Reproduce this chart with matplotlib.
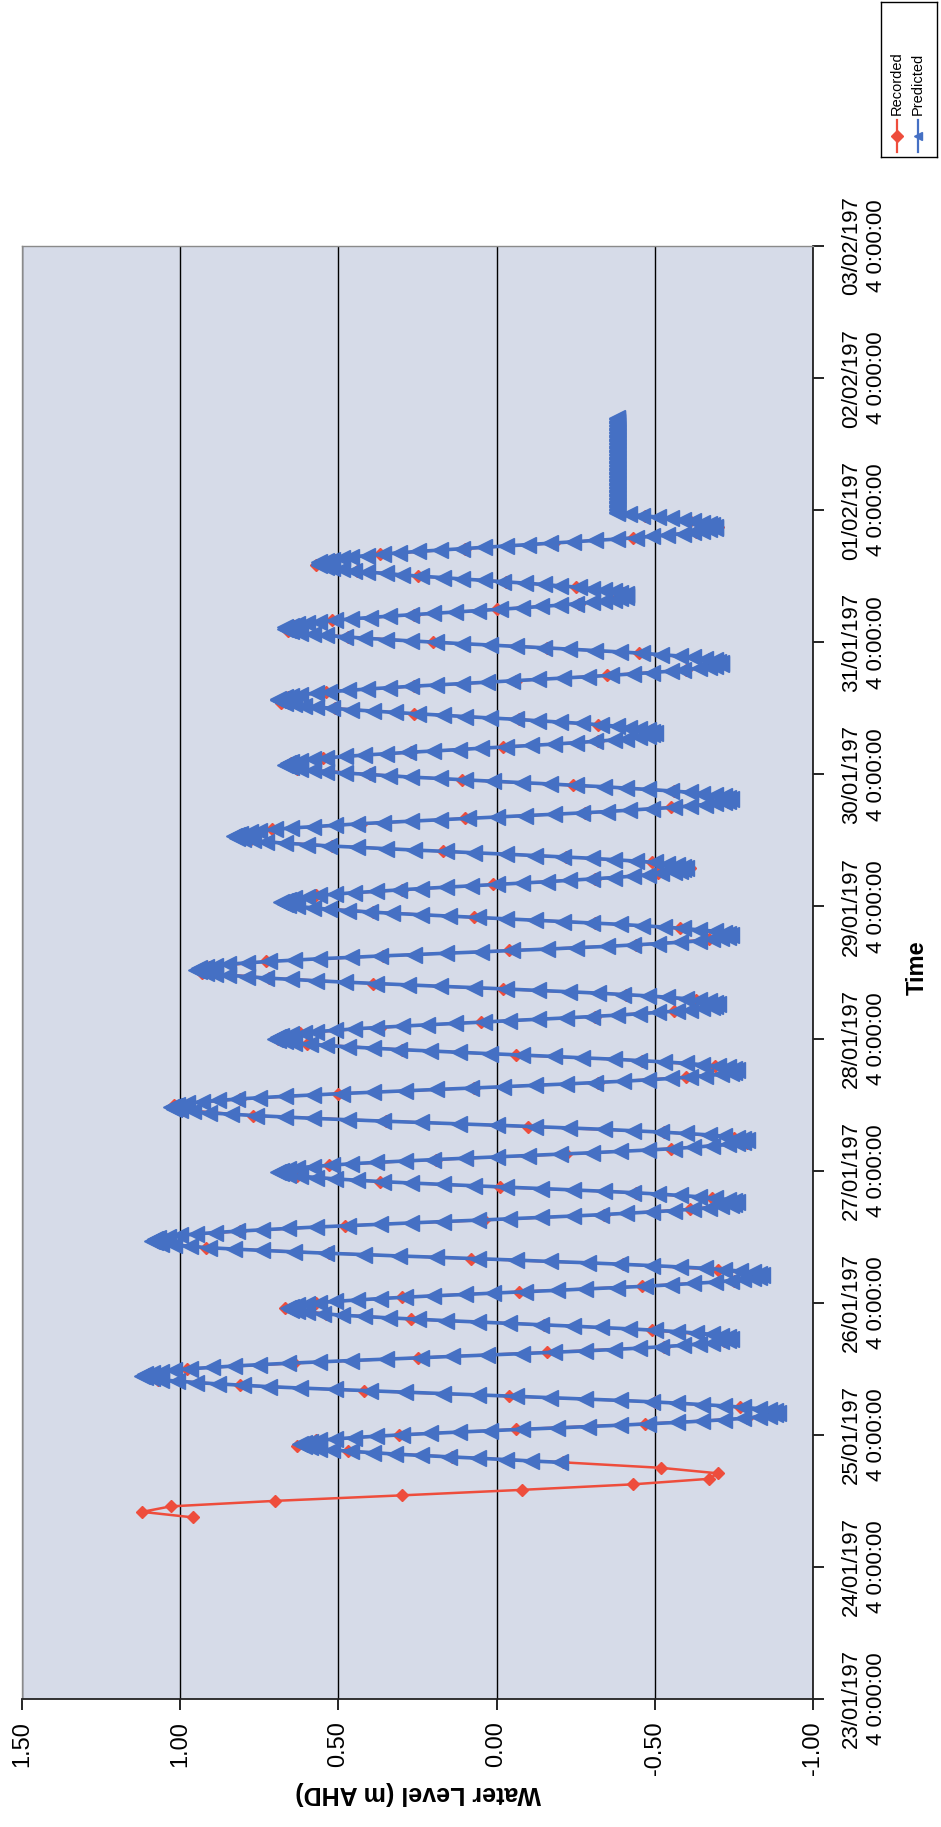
import pandas as pd
import matplotlib
matplotlib.use("Agg")
import matplotlib.pyplot as plt

plt.rcParams["font.family"] = ["Liberation Sans", "DejaVu Sans"]

level_ticks = [1.5, 1.0, 0.5, 0.0, -0.5, -1.0]
level_labels = ["1.50", "1.00", "0.50", "0.00", "-0.50", "-1.00"]

date_ticks = pd.date_range("1974-01-23", "1974-02-03", freq="D")
date_labels = [
    "23/01/197\n4 0:00:00", "24/01/197\n4 0:00:00", "25/01/197\n4 0:00:00",
    "26/01/197\n4 0:00:00", "27/01/197\n4 0:00:00", "28/01/197\n4 0:00:00",
    "29/01/197\n4 0:00:00", "30/01/197\n4 0:00:00", "31/01/197\n4 0:00:00",
    "01/02/197\n4 0:00:00", "02/02/197\n4 0:00:00", "03/02/197\n4 0:00:00",
]

# recorded levels, hourly from 24/01/1974 09:00
recorded_start = "1974-01-24 09:00"
recorded_level = [
    0.96, 1.12, 1.03, 0.70, 0.30, -0.08, -0.43, -0.67, -0.70, -0.52,
    -0.21, 0.14, 0.47, 0.63, 0.57, 0.31, -0.06, -0.47, -0.79, -0.88,
    -0.77, -0.50, -0.04, 0.42, 0.81, 1.07, 1.10, 0.98, 0.64, 0.25,
    -0.16, -0.53, -0.72, -0.70, -0.49, -0.15, 0.27, 0.54, 0.67, 0.57,
    0.30, -0.07, -0.46, -0.75, -0.83, -0.70, -0.40, 0.08, 0.53, 0.92,
    1.07, 1.05, 0.81, 0.48, 0.04, -0.34, -0.61, -0.76, -0.68, -0.44,
    -0.01, 0.37, 0.63, 0.67, 0.53, 0.19, -0.22, -0.55, -0.79, -0.75,
    -0.53, -0.10, 0.35, 0.77, 0.99, 1.02, 0.81, 0.50, 0.07, -0.32,
    -0.60, -0.76, -0.69, -0.46, -0.06, 0.30, 0.60, 0.69, 0.62, 0.37,
    0.05, -0.31, -0.56, -0.70, -0.63, -0.41, -0.02, 0.39, 0.72, 0.93,
    0.91, 0.73, 0.36, -0.04, -0.44, -0.67, -0.74, -0.58, -0.31, 0.07,
    0.39, 0.64, 0.66, 0.57, 0.30, 0.01, -0.31, -0.51, -0.61, -0.49,
    -0.22, 0.17, 0.52, 0.78, 0.81, 0.71, 0.43, 0.10, -0.28, -0.55,
    -0.73, -0.71, -0.56, -0.24, 0.11, 0.40, 0.63, 0.65, 0.55, 0.27,
    -0.02, -0.32, -0.47, -0.49, -0.32, -0.07, 0.26, 0.51, 0.68, 0.66,
    0.54, 0.26, -0.06, -0.35, -0.60, -0.70, -0.67, -0.45, -0.16, 0.20,
    0.47, 0.66, 0.64, 0.52, 0.26, 0.00, -0.26, -0.38, -0.40, -0.25,
    -0.03, 0.25, 0.44, 0.57, 0.51, 0.37, 0.10, -0.18, -0.43, -0.63,
    -0.70, -0.61, -0.47,
]

# predicted levels, every 15 minutes from 24/01/1974 19:00
predicted_start = "1974-01-24 19:00"
predicted_level = [
    -0.20, -0.11, -0.03, 0.06, 0.15, 0.24, 0.32, 0.39, 0.46, 0.52, 0.56, 0.59, 0.61, 0.62,
    0.61, 0.59, 0.56, 0.51, 0.45, 0.38, 0.30, 0.21, 0.12, 0.02, -0.08, -0.19,
    -0.29, -0.39, -0.48, -0.57, -0.65, -0.72, -0.78, -0.83, -0.86, -0.88, -0.89,
    -0.88, -0.86, -0.83, -0.78, -0.72, -0.65, -0.57, -0.49, -0.39, -0.28, -0.17, -0.06,
    0.06, 0.17, 0.29, 0.40, 0.51, 0.62, 0.72, 0.80, 0.88, 0.95, 1.01, 1.06, 1.09, 1.11, 1.12,
    1.11, 1.09, 1.06, 1.02, 0.97, 0.90, 0.83, 0.75, 0.66, 0.56, 0.46, 0.35, 0.24, 0.14,
    0.03, -0.08, -0.18, -0.28, -0.37, -0.45, -0.52, -0.59, -0.64, -0.68, -0.71, -0.73, -0.74,
    -0.73, -0.71, -0.68, -0.63, -0.57, -0.50, -0.42, -0.33, -0.24, -0.14, -0.04,
    0.06, 0.16, 0.25, 0.34, 0.42, 0.49, 0.55, 0.60, 0.63, 0.65, 0.66,
    0.65, 0.63, 0.60, 0.56, 0.51, 0.44, 0.37, 0.29, 0.20, 0.10, 0.01, -0.09,
    -0.19, -0.28, -0.38, -0.47, -0.55, -0.62, -0.69, -0.74, -0.78, -0.81, -0.83, -0.84,
    -0.83, -0.81, -0.77, -0.72, -0.66, -0.58, -0.49, -0.39, -0.29, -0.17, -0.06, 0.06,
    0.19, 0.31, 0.42, 0.54, 0.64, 0.74, 0.83, 0.91, 0.97, 1.02, 1.06, 1.08, 1.09,
    1.08, 1.07, 1.04, 1.00, 0.95, 0.89, 0.82, 0.74, 0.66, 0.57, 0.47, 0.37, 0.27, 0.17,
    0.06, -0.04, -0.14, -0.24, -0.33, -0.41, -0.49, -0.56, -0.62, -0.67, -0.71, -0.74, -0.75, -0.76,
    -0.75, -0.73, -0.69, -0.64, -0.58, -0.51, -0.43, -0.34, -0.24, -0.14, -0.03,
    0.07, 0.17, 0.27, 0.36, 0.44, 0.51, 0.57, 0.62, 0.66, 0.68, 0.69,
    0.68, 0.66, 0.63, 0.58, 0.52, 0.46, 0.38, 0.29, 0.20, 0.10, 0.00, -0.10,
    -0.20, -0.30, -0.39, -0.48, -0.56, -0.62, -0.68, -0.73, -0.76, -0.78, -0.79,
    -0.78, -0.76, -0.72, -0.67, -0.60, -0.52, -0.43, -0.34, -0.23, -0.12, 0.00, 0.12,
    0.24, 0.36, 0.47, 0.58, 0.67, 0.76, 0.84, 0.91, 0.96, 1.00, 1.02, 1.03,
    1.02, 1.01, 0.98, 0.93, 0.88, 0.82, 0.75, 0.67, 0.58, 0.49, 0.39, 0.29, 0.19, 0.08,
    -0.02, -0.12, -0.22, -0.31, -0.40, -0.48, -0.55, -0.61, -0.66, -0.71, -0.74, -0.75, -0.76,
    -0.75, -0.73, -0.70, -0.65, -0.60, -0.53, -0.45, -0.37, -0.27, -0.18, -0.08, 0.02,
    0.12, 0.21, 0.31, 0.39, 0.47, 0.54, 0.59, 0.64, 0.67, 0.69, 0.70,
    0.69, 0.68, 0.65, 0.61, 0.57, 0.51, 0.45, 0.38, 0.30, 0.22, 0.13, 0.04, -0.04,
    -0.13, -0.22, -0.30, -0.38, -0.45, -0.51, -0.57, -0.61, -0.65, -0.68, -0.69, -0.70,
    -0.69, -0.67, -0.64, -0.60, -0.54, -0.48, -0.40, -0.32, -0.23, -0.13, -0.03, 0.07,
    0.18, 0.28, 0.38, 0.48, 0.57, 0.65, 0.73, 0.79, 0.85, 0.89, 0.92, 0.94, 0.95,
    0.94, 0.92, 0.89, 0.85, 0.79, 0.72, 0.64, 0.56, 0.46, 0.37, 0.26, 0.16, 0.05,
    -0.05, -0.16, -0.25, -0.35, -0.43, -0.51, -0.58, -0.64, -0.68, -0.71, -0.73, -0.74,
    -0.73, -0.72, -0.69, -0.64, -0.59, -0.53, -0.46, -0.39, -0.30, -0.21, -0.12, -0.03,
    0.06, 0.15, 0.24, 0.33, 0.40, 0.47, 0.53, 0.58, 0.63, 0.66, 0.67, 0.68,
    0.67, 0.66, 0.64, 0.60, 0.56, 0.51, 0.45, 0.38, 0.31, 0.24, 0.16, 0.08, 0.00,
    -0.08, -0.16, -0.23, -0.30, -0.37, -0.43, -0.48, -0.52, -0.56, -0.58, -0.59, -0.60,
    -0.59, -0.57, -0.54, -0.50, -0.44, -0.37, -0.30, -0.21, -0.12, -0.03, 0.07,
    0.16, 0.26, 0.35, 0.44, 0.53, 0.60, 0.67, 0.73, 0.77, 0.80, 0.82, 0.83,
    0.82, 0.81, 0.78, 0.75, 0.70, 0.65, 0.58, 0.51, 0.44, 0.36, 0.27, 0.18, 0.09, 0.00,
    -0.09, -0.18, -0.27, -0.35, -0.42, -0.49, -0.56, -0.61, -0.66, -0.69, -0.72, -0.73, -0.74,
    -0.73, -0.72, -0.69, -0.65, -0.61, -0.55, -0.48, -0.41, -0.34, -0.25, -0.17, -0.08,
    0.01, 0.10, 0.18, 0.27, 0.34, 0.41, 0.48, 0.54, 0.58, 0.62, 0.65, 0.66, 0.67,
    0.66, 0.65, 0.62, 0.58, 0.54, 0.48, 0.42, 0.35, 0.28, 0.20, 0.12, 0.05,
    -0.03, -0.11, -0.18, -0.25, -0.31, -0.37, -0.41, -0.45, -0.48, -0.49, -0.50,
    -0.49, -0.48, -0.45, -0.42, -0.38, -0.33, -0.27, -0.20, -0.13, -0.06, 0.02, 0.10,
    0.17, 0.25, 0.32, 0.39, 0.46, 0.52, 0.57, 0.61, 0.64, 0.67, 0.68, 0.69,
    0.69, 0.67, 0.65, 0.62, 0.57, 0.53, 0.47, 0.41, 0.34, 0.27, 0.19, 0.11, 0.03,
    -0.05, -0.13, -0.21, -0.29, -0.36, -0.43, -0.49, -0.55, -0.59, -0.64, -0.67, -0.69, -0.71, -0.71,
    -0.70, -0.69, -0.66, -0.62, -0.58, -0.52, -0.46, -0.39, -0.31, -0.23, -0.15, -0.06,
    0.02, 0.11, 0.19, 0.27, 0.35, 0.42, 0.48, 0.54, 0.58, 0.62, 0.65, 0.66, 0.67,
    0.67, 0.65, 0.63, 0.60, 0.56, 0.51, 0.46, 0.40, 0.34, 0.27, 0.20, 0.13,
    0.06, -0.01, -0.08, -0.14, -0.20, -0.25, -0.30, -0.34, -0.37, -0.39, -0.41, -0.41,
    -0.41, -0.39, -0.37, -0.34, -0.30, -0.26, -0.20, -0.15, -0.09, -0.02, 0.04, 0.11,
    0.17, 0.24, 0.30, 0.35, 0.41, 0.45, 0.49, 0.52, 0.54, 0.56, 0.56,
    0.56, 0.54, 0.52, 0.49, 0.46, 0.41, 0.36, 0.31, 0.25, 0.18, 0.11, 0.04, -0.03,
    -0.10, -0.17, -0.24, -0.31, -0.38, -0.44, -0.49, -0.54, -0.59, -0.62, -0.65, -0.67, -0.69, -0.69,
    -0.68, -0.67, -0.65, -0.62, -0.59, -0.55, -0.51, -0.46, -0.42, -0.38,
    # flat stretch at the end of the prediction run
    -0.38, -0.38, -0.38, -0.38, -0.38, -0.38, -0.38, -0.38, -0.38, -0.38,
    -0.38, -0.38, -0.38, -0.38, -0.38, -0.38, -0.38, -0.38, -0.38, -0.38,
    -0.38, -0.38, -0.38, -0.38, -0.38, -0.38, -0.38, -0.38, -0.38, -0.38,
    -0.38, -0.38, -0.38, -0.38, -0.38, -0.38, -0.38, -0.38, -0.38, -0.38,
    -0.38, -0.38, -0.38, -0.38, -0.38, -0.38, -0.38, -0.38, -0.38, -0.38,
    -0.38, -0.38, -0.38, -0.38, -0.38, -0.38, -0.38, -0.38, -0.38, -0.38,
    -0.38, -0.38, -0.38, -0.38, -0.38, -0.38, -0.38, -0.38, -0.38,
]

RED = "#ee4d3c"
BLUE = "#4570c4"
PLOT_BG = "#d6dbe8"

rec_times = pd.date_range(recorded_start, periods=len(recorded_level), freq="h")
pred_times = pd.date_range(predicted_start, periods=len(predicted_level), freq="15min")

W, H = 941, 1827
fig = plt.figure(figsize=(W / 100, H / 100), dpi=100)

# the chart was scanned sideways: water level runs right-to-left, time bottom-to-top
left, right, top, bottom = 22, 813, 246, 1699
ax = fig.add_axes([left / W, (H - bottom) / H, (right - left) / W, (bottom - top) / H])
ax.set_facecolor(PLOT_BG)

ax.plot(recorded_level, rec_times, color=RED, lw=1.8, marker="D", ms=6.5,
        mec=RED, mfc=RED, zorder=3)
ax.plot(predicted_level, pred_times, color=BLUE, lw=2.6, marker="<", ms=11.5,
        mec=BLUE, mfc=BLUE, zorder=4)

ax.set_xlim(1.5, -1.0)
ax.set_ylim(date_ticks[0], date_ticks[-1])

ax.set_xticks(level_ticks)
ax.set_xticklabels(level_labels)
ax.set_yticks(date_ticks)
ax.set_yticklabels(date_labels)

ax.grid(axis="x", color="black", lw=1.0, zorder=1)
ax.grid(axis="y", visible=False)
ax.set_axisbelow(True)

for side in ["bottom", "right"]:
    ax.spines[side].set_color("#222222")
    ax.spines[side].set_linewidth(1.3)
for side in ["top", "left"]:
    ax.spines[side].set_color("#8a8a8a")
    ax.spines[side].set_linewidth(1.0)

ax.tick_params(axis="x", direction="out", length=8, width=1.2, pad=8,
               labelsize=17, labelrotation=90)
ax.yaxis.tick_right()
ax.tick_params(axis="y", direction="out", length=8, width=1.2, pad=12,
               labelsize=16, labelrotation=90)
for lab in ax.get_yticklabels():
    lab.set_va("center")
    lab.set_ha("left")
    lab.set_multialignment("center")
    lab.set_linespacing(1.25)

fig.text(418 / W, 1 - 1793 / H, "Water Level (m AHD)", rotation=180,
         ha="center", va="center", fontsize=18, fontweight="bold")
fig.text(917 / W, 1 - 968 / H, "Time", rotation=90,
         ha="center", va="center", fontsize=17, fontweight="bold")

# legend, drawn sideways like the rest of the scan
lax = fig.add_axes([881 / W, 1 - 157 / H, 56 / W, 155 / H])
lax.set_xlim(0, 1)
lax.set_ylim(0, 1)
lax.set_xticks([])
lax.set_yticks([])
for sp in lax.spines.values():
    sp.set_color("black")
    sp.set_linewidth(1.0)
for xpos, color, marker, name in [(0.29, RED, "D", "Recorded"),
                                  (0.66, BLUE, "<", "Predicted")]:
    lax.plot([xpos, xpos], [0.03, 0.24], color=color, lw=1.6)
    lax.plot([xpos], [0.135], marker=marker, ms=6, color=color)
    lax.text(xpos, 0.27, name, rotation=90, ha="center", va="bottom", fontsize=10.5)

fig.savefig("out.png", dpi=100)
